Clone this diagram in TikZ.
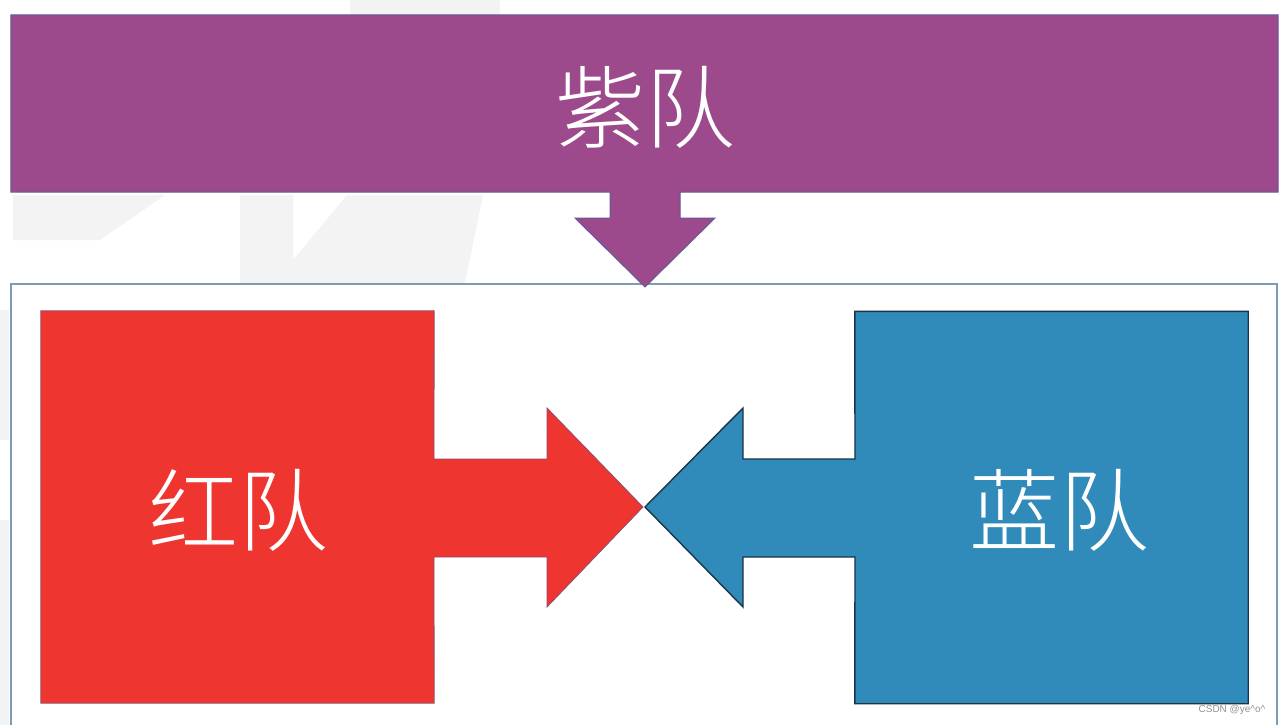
\documentclass[tikz,border=0pt]{standalone}
\usepackage{fontspec}
\newfontfamily\cjkfont[UprightFont=* Light]{Noto Sans CJK SC}
\newfontfamily\wmfont{Liberation Sans}
\definecolor{purplefill}{HTML}{9C4A8B}
\definecolor{purpleedge}{HTML}{635A98}
\definecolor{redfill}{HTML}{EE3530}
\definecolor{rededge}{HTML}{8A4F72}
\definecolor{bluefill}{HTML}{308BBA}
\definecolor{blueedge}{HTML}{1C3447}
\definecolor{frameedge}{HTML}{7E9BB0}
\definecolor{faint}{HTML}{F3F3F3}
\tikzset{
  teambox/.style={minimum width=393pt, minimum height=392pt, inner sep=0pt, draw=none},
  teamlabel/.style={text=white, font=\cjkfont\fontsize{90}{90}\selectfont, inner sep=0pt},
  wmark/.style={text=gray!85, font=\wmfont\fontsize{10}{10}\selectfont, inner sep=0pt}
}
\begin{document}
\begin{tikzpicture}[x=1pt,y=-1pt]
\useasboundingbox (0,0) rectangle (1282,725);
\fill[white] (0,0) rectangle (1282,725);
% faint background watermark shapes
\fill[faint] (350,0) -- (500,0) -- (500,15) -- (350,15) -- cycle;
\fill[faint] (13,195) -- (165,195) -- (100,240) -- (13,240) -- cycle;
\fill[faint] (240,195) -- (293,195) -- (293,260) -- (347,195) -- (483,195) -- (465,283) -- (240,283) -- cycle;
\fill[faint] (0,310) rectangle (9,440);
\fill[faint] (0,520) rectangle (9,725);
% outer frame
\draw[frameedge, line width=2pt] (11,730) -- (11,284) -- (1277,284) -- (1277,730);
% purple bar with down arrow
\node[minimum width=1267pt, minimum height=177pt, inner sep=0pt, fill=purplefill] (purple) at (644.5,103.5) {};
\filldraw[fill=purplefill, draw=purpleedge, line width=1pt]
  (purple.north west) -- (purple.north east) -- (purple.south east)
  -- (680,192) -- (680,218) -- (715,218) -- (645,287) -- (575,218) -- (610,218) -- (610,192)
  -- (purple.south west) -- cycle;
\node[teamlabel] (purpletxt) at (645,107) {紫队};
% red team
\node[teambox, fill=redfill] (red) at (237.5,507) {};
\filldraw[fill=redfill, draw=rededge, line width=0.8pt, line join=miter]
  (red.north west) -- (red.north east) -- (434,459) -- (547,459) -- (547,408)
  -- (643,507) coordinate (redtip) -- (547,607) -- (547,557) -- (434,557)
  -- (red.south east) -- (red.south west) -- cycle;
\node[teamlabel] (redtxt) at (238,510) {红队};
% blue team
\node[teambox, fill=bluefill] (blue) at (1051.5,507.5) {};
\filldraw[fill=bluefill, draw=blueedge, line width=1.4pt, line join=miter]
  (blue.north east) -- (blue.north west) -- (855,459) -- (743,459) -- (743,408)
  -- (645,507) coordinate (bluetip) -- (743,607) -- (743,557) -- (855,557)
  -- (blue.south west) -- (blue.south east) -- cycle;
\node[teamlabel] (bluetxt) at (1059,510) {蓝队};
% watermark
\node[wmark] (wm) at (1232,710) {CSDN @ye\textasciicircum o\textasciicircum};
\end{tikzpicture}
\end{document}
